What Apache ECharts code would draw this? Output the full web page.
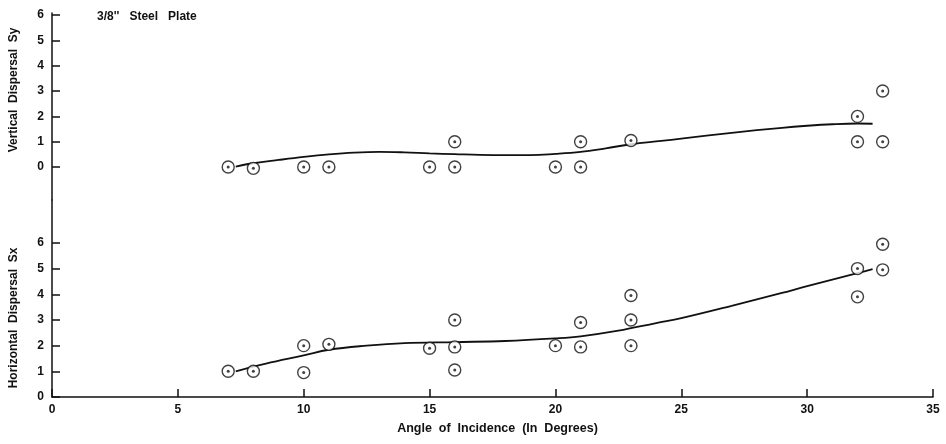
<!DOCTYPE html>
<html>
<head>
<meta charset="utf-8">
<script src="https://cdn.jsdelivr.net/npm/echarts@6/dist/echarts.min.js"></script>
<style>
  html, body { margin: 0; padding: 0; background: #fff; }
  #chart { width: 946px; height: 444px; }
</style>
</head>
<body>
<div id="chart"></div>
<script>
// measured points, vertical dispersal (top)
var vAngle = [7, 8, 10, 11, 15, 16, 16, 20, 21, 21, 23, 32, 32, 33, 33];
var vDisp  = [0, -0.05, 0, 0, 0, 1, 0, 0, 1, 0, 1.05, 2, 1, 3, 1];
// fitted curve, vertical
var vCurveX = [7.3, 8, 9, 10, 11, 12, 13, 14, 15, 16, 17, 18, 19, 20, 21, 22, 23, 24.2, 25, 27, 29, 30, 31, 32, 32.6];
var vCurveY = [0.02, 0.15, 0.28, 0.4, 0.5, 0.57, 0.6, 0.58, 0.54, 0.51, 0.48, 0.47, 0.47, 0.52, 0.6, 0.74, 0.9, 1.03, 1.12, 1.35, 1.55, 1.63, 1.69, 1.72, 1.71];

// measured points, horizontal dispersal (bottom)
var hAngle = [7, 8, 10, 10, 11, 15, 16, 16, 16, 20, 21, 21, 23, 23, 23, 32, 32, 33, 33];
var hDisp  = [1, 1, 2, 0.95, 2.05, 1.9, 3, 1.95, 1.05, 2, 2.9, 1.95, 3.95, 3, 2, 5, 3.9, 5.95, 4.95];
// fitted curve, horizontal
var hCurveX = [7.3, 8.5, 10, 11, 12.5, 14, 16, 18, 20, 21, 22.5, 24, 25, 27, 29, 30, 32, 32.6];
var hCurveY = [1.0, 1.3, 1.62, 1.84, 2.0, 2.1, 2.14, 2.18, 2.28, 2.36, 2.58, 2.88, 3.07, 3.55, 4.05, 4.32, 4.82, 4.98];

var xTicks = [0, 5, 10, 15, 20, 25, 30, 35];
var yTicks = [0, 1, 2, 3, 4, 5, 6];

function pairs(xs, ys) {
  return xs.map(function (x, i) { return [x, ys[i]]; });
}

var font = 'Liberation Sans';
var black = '#111';

function yAxis(gridIndex, min, max) {
  return {
    type: 'value', gridIndex: gridIndex, min: min, max: max,
    splitLine: { show: false },
    axisLine: { show: true, lineStyle: { color: black, width: 1.5 } },
    axisTick: { show: true, inside: true, length: 8, customValues: yTicks, lineStyle: { color: black, width: 1.5 } },
    axisLabel: { customValues: yTicks, margin: 8, color: black, fontFamily: font, fontWeight: 'bold', fontSize: 12 }
  };
}

function marks(gi, xs, ys, curveX, curveY) {
  return [
    {
      type: 'line', xAxisIndex: gi, yAxisIndex: gi, data: pairs(curveX, curveY),
      smooth: 0.4, showSymbol: false, lineStyle: { color: black, width: 1.8 }, z: 2
    },
    {
      type: 'scatter', xAxisIndex: gi, yAxisIndex: gi, data: pairs(xs, ys),
      symbol: 'circle', symbolSize: 12,
      itemStyle: { color: '#fff', borderColor: black, borderWidth: 1.4 }, z: 3
    },
    {
      type: 'scatter', xAxisIndex: gi, yAxisIndex: gi, data: pairs(xs, ys),
      symbol: 'circle', symbolSize: 3, itemStyle: { color: black }, z: 4
    }
  ];
}

var chart = echarts.init(document.getElementById('chart'));
chart.setOption({
  animation: false,
  backgroundColor: '#fff',
  grid: [
    { left: 52, right: 13, top: 13, height: 187 },
    { left: 52, right: 13, top: 200, height: 197 }
  ],
  xAxis: [
    { type: 'value', gridIndex: 0, min: 0, max: 35, show: false },
    {
      type: 'value', gridIndex: 1, min: 0, max: 35, interval: 5,
      splitLine: { show: false },
      axisLine: { lineStyle: { color: black, width: 1.5 } },
      axisTick: { inside: true, length: 8, lineStyle: { color: black, width: 1.5 } },
      axisLabel: { margin: 7, color: black, fontFamily: font, fontWeight: 'bold', fontSize: 12 },
      name: 'Angle  of  Incidence  (In  Degrees)', nameLocation: 'middle', nameGap: 25,
      nameTextStyle: { color: black, fontFamily: font, fontWeight: 'bold', fontSize: 12.5, padding: [0, 0, 0, 10] }
    }
  ],
  yAxis: [yAxis(0, -1.3, 6.08), yAxis(1, 0, 7.67)],
  graphic: [
    {
      type: 'text', left: 97, top: 11,
      style: { text: "3/8''   Steel   Plate", fill: black, font: 'bold 12px "Liberation Sans"' }
    },
    {
      type: 'text', x: 14, y: 90, rotation: Math.PI / 2,
      style: { text: 'Vertical  Dispersal  Sy', fill: black, font: 'bold 12px "Liberation Sans"', align: 'center', verticalAlign: 'middle' }
    },
    {
      type: 'text', x: 14, y: 318, rotation: Math.PI / 2,
      style: { text: 'Horizontal  Dispersal  Sx', fill: black, font: 'bold 12px "Liberation Sans"', align: 'center', verticalAlign: 'middle' }
    }
  ],
  series: marks(0, vAngle, vDisp, vCurveX, vCurveY).concat(marks(1, hAngle, hDisp, hCurveX, hCurveY))
});
</script>
</body>
</html>
